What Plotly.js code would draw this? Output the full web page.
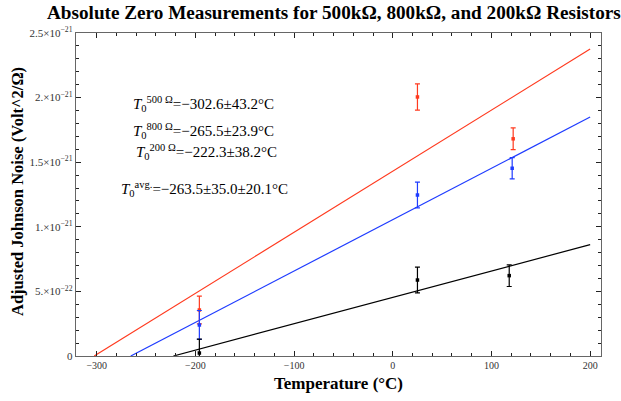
<!DOCTYPE html>
<html>
<head>
<meta charset="utf-8">
<script src="https://cdn.plot.ly/plotly-3.0.1.min.js"></script>
<style>html,body{margin:0;padding:0;background:#fff}#chart{width:621px;height:401px}</style>
</head>
<body>
<div id="chart"></div>
<script>
// Measurements (temperature in °C, adjusted noise in V^2/Ω)
const redX = [-196, 25, 122];
const redY = [0.356e-21, 2.005e-21, 1.681e-21];
const redErr = [0.108e-21, 0.102e-21, 0.084e-21];

const blueX = [-196, 25, 121];
const blueY = [0.240e-21, 1.246e-21, 1.453e-21];
const blueErr = [0.112e-21, 0.100e-21, 0.082e-21];

const blackX = [-196, 25, 118];
const blackY = [0.023e-21, 0.588e-21, 0.622e-21];
const blackErr = [0.108e-21, 0.100e-21, 0.084e-21];

// Linear fits: from x-intercept (absolute zero estimate) to 200 °C
const redFitX = [-302.6, 200];
const redFitY = [0, 2.376e-21];
const blueFitX = [-265.5, 200];
const blueFitY = [0, 1.850e-21];
const blackFitX = [-222.3, 200];
const blackFitY = [0, 0.862e-21];

const xTickVals = [-300, -200, -100, 0, 100, 200];
const yTickVals = [0, 0.5e-21, 1.0e-21, 1.5e-21, 2.0e-21, 2.5e-21];
const yTickText = ['0', '5.×10<sup>−22</sup>', '1.×10<sup>−21</sup>', '1.5×10<sup>−21</sup>', '2.×10<sup>−21</sup>', '2.5×10<sup>−21</sup>'];

const labels = [
  '<i>T</i><sub>0</sub><sup>500 Ω</sup>=−302.6±43.2°C',
  '<i>T</i><sub>0</sub><sup>800 Ω</sup>=−265.5±23.9°C',
  '<i>T</i><sub>0</sub><sup>200 Ω</sup>=−222.3±38.2°C',
  '<i>T</i><sub>0</sub><sup>avg.</sup>=−263.5±35.0±20.1°C'
];

const RED = '#ff3a1f', BLUE = '#1f3cff', BLACK = '#000000';

function fitTrace(x, y, c) {
  return {x: x, y: y, mode: 'lines', type: 'scatter', line: {color: c, width: 1.2}, hoverinfo: 'skip'};
}
function ptTrace(x, y, e, c) {
  return {x: x, y: y, mode: 'markers', type: 'scatter',
    marker: {color: c, size: 3.5, symbol: 'square'},
    error_y: {type: 'data', array: e, visible: true, color: c, thickness: 1.2, width: 2.5}};
}

const data = [
  fitTrace(redFitX, redFitY, RED),
  fitTrace(blueFitX, blueFitY, BLUE),
  fitTrace(blackFitX, blackFitY, BLACK),
  ptTrace(redX, redY, redErr, RED),
  ptTrace(blueX, blueY, blueErr, BLUE),
  ptTrace(blackX, blackY, blackErr, BLACK)
];

const serif = 'Liberation Serif, Times New Roman, serif';
const frameCol = '#666666';

const annY = [0.780, 0.697, 0.632, 0.517];
const annX = [0.104, 0.104, 0.110, 0.081];
const annotations = labels.map((t, i) => ({
  text: t, xref: 'paper', yref: 'paper', x: annX[i], y: annY[i],
  xanchor: 'left', yanchor: 'middle', showarrow: false,
  font: {family: serif, size: 15, color: '#000'}
}));
// y-axis title, placed as a rotated annotation to match the reference position
annotations.push({
  text: '<b>Adjusted Johnson Noise (Volt^2/Ω)</b>', xref: 'paper', yref: 'paper',
  x: -(76 - 17) / 525, y: (356 - 192) / 323, xanchor: 'center', yanchor: 'middle',
  textangle: -90, showarrow: false, font: {family: serif, size: 16.5, color: '#000'}
});

const layout = {
  width: 621, height: 401,
  margin: {l: 76, r: 20, t: 33, b: 45},
  paper_bgcolor: '#fff', plot_bgcolor: '#fff',
  showlegend: false,
  title: {text: '<b>Absolute Zero Measurements for 500kΩ, 800kΩ, and 200kΩ Resistors</b>',
    x: 47/621, xanchor: 'left', xref: 'container', y: 1 - 12/401, yanchor: 'middle', yref: 'container',
    font: {family: serif, size: 19.2, color: '#000'}},
  xaxis: {
    range: [-321, 211], showgrid: false, zeroline: false,
    showline: true, linecolor: frameCol, linewidth: 1.3, mirror: 'allticks',
    ticks: 'inside', ticklen: 5, tickwidth: 1, tickcolor: '#222',
    tickvals: xTickVals, tickfont: {family: serif, size: 10, color: '#333'},
    minor: {dtick: 20, tick0: 0, ticks: 'inside', ticklen: 3, tickcolor: '#222', showgrid: false},
    title: {text: '<b>Temperature (°C)</b>', font: {family: serif, size: 17, color: '#000'}, standoff: 6}
  },
  yaxis: {
    range: [0, 2.5e-21], showgrid: false, zeroline: false,
    showline: true, linecolor: frameCol, linewidth: 1.3, mirror: 'allticks',
    ticks: 'inside', ticklen: 5, tickwidth: 1, tickcolor: '#222',
    tickvals: yTickVals, ticktext: yTickText, tickfont: {family: serif, size: 11, color: '#333'},
    minor: {dtick: 0.1e-21, tick0: 0, ticks: 'inside', ticklen: 3, tickcolor: '#222', showgrid: false}
  },
  annotations: annotations
};

Plotly.newPlot('chart', data, layout, {displayModeBar: false, staticPlot: true});
</script>
</body>
</html>
